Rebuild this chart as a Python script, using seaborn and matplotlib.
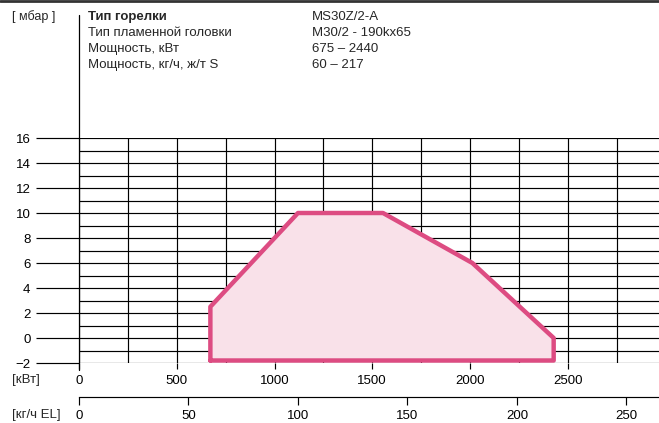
import matplotlib
matplotlib.use('Agg')
import matplotlib.pyplot as plt
from matplotlib.lines import Line2D
from matplotlib.ticker import MultipleLocator
import seaborn as sns

#Data
kwPoints = [672, 672, 1120, 1555, 2012, 2428, 2428]
mbarPoints = [-1.8, 2.5, 10, 10, 6, 0, -1.8]
kwTicks = [0, 500, 1000, 1500, 2000, 2500]
kgTicks = [0, 50, 100, 150, 200, 250]
mbarTicks = [-2, 0, 2, 4, 6, 8, 10, 12, 14, 16]
headerLabels = ['Тип горелки', 'Тип пламенной головки', 'Мощность, кВт', 'Мощность, кг/ч, ж/т S']
headerValues = ['MS30Z/2-A', 'M30/2 - 190kx65', '675 – 2440', '60 – 217']
kwPerKg = 11.2

sns.set_style('white')
plt.rcParams['font.family'] = ['Liberation Sans', 'DejaVu Sans']

W, H = 659, 423
fig = plt.figure(figsize=(W / 100, H / 100), dpi=100)
pxPerKw = 0.1955
ax = fig.add_axes([79 / W, (H - 363) / H, 580 / W, 225 / H])
ax.set_xlim(0, 580 / pxPerKw)
ax.set_ylim(-2, 16)

#Working field
ax.fill(kwPoints, mbarPoints, color='#f9e1e9', zorder=3)
sns.lineplot(x=kwPoints + [kwPoints[0]], y=mbarPoints + [mbarPoints[0]], sort=False,
             estimator=None, color='#dd4c82', linewidth=3.2, ax=ax, zorder=4)

#Grid
ax.set_yticks(mbarTicks)
ax.yaxis.set_minor_locator(MultipleLocator(1))
ax.set_xticks(kwTicks)
ax.xaxis.set_minor_locator(MultipleLocator(250))
ax.grid(True, which='both', color='black', linewidth=0.85)
ax.tick_params(axis='y', which='major', left=True, length=31, width=0.85, direction='out',
               pad=4, labelsize=9.5, colors='black')
ax.tick_params(axis='y', which='minor', left=False, length=0)
ax.tick_params(axis='x', which='major', bottom=True, length=4.5, width=0.85, direction='out',
               pad=4, labelsize=9.5, colors='black')
ax.tick_params(axis='x', which='minor', bottom=False, length=0)
for s in ax.spines.values():
    s.set_visible(False)
ax.plot([0, 0], [-2.56, 25.84], color='black', linewidth=0.9, clip_on=False, zorder=5)

#Second scale in kg/h
sec = ax.secondary_xaxis(-34 / 225, functions=(lambda x: x / kwPerKg, lambda x: x * kwPerKg))
sec.set_xticks(kgTicks)
sec.spines['bottom'].set_visible(True)
sec.spines['bottom'].set_linewidth(0.85)
sec.spines['bottom'].set_color('black')
sec.tick_params(bottom=True, length=6, width=0.85, direction='out', pad=3, labelsize=9.5, colors='black')

#Texts
fig.text(12 / W, 1 - 380 / H, '[кВт]', fontsize=9.5, va='center', ha='left')
fig.text(12 / W, 1 - 415 / H, '[кг/ч EL]', fontsize=9.5, va='center', ha='left')
fig.text(12 / W, 1 - 17 / H, '[ мбар ]', fontsize=9, va='center', ha='left')
for i, (lab, val) in enumerate(zip(headerLabels, headerValues)):
    yy = 1 - (17 + 16 * i) / H
    fig.text(88 / W, yy, lab, fontsize=9.5, va='center', ha='left',
             fontweight='bold' if i == 0 else 'normal')
    fig.text(312 / W, yy, val, fontsize=9.5, va='center', ha='left')

fig.add_artist(Line2D([0, 1], [1 - 1.5 / H] * 2, color='#333333', linewidth=2))

fig.savefig('out.png', dpi=100)
